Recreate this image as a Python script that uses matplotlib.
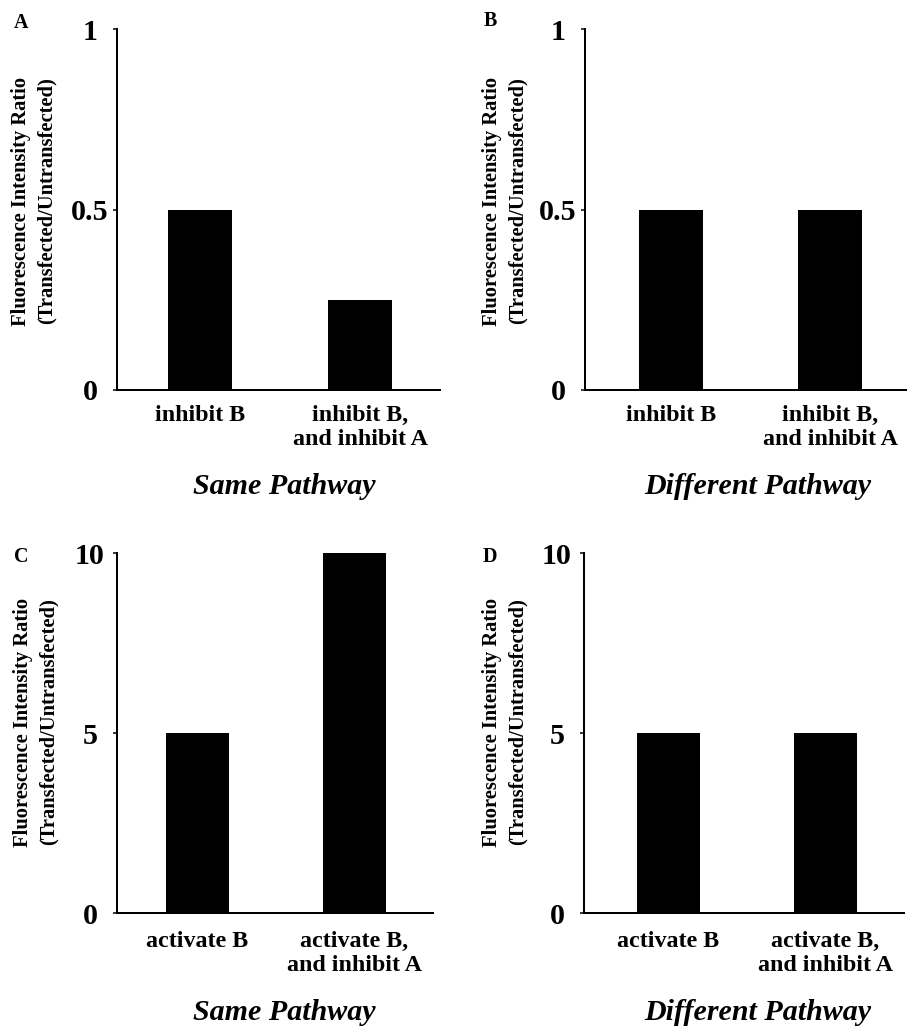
import matplotlib
matplotlib.use("Agg")
import matplotlib.pyplot as plt

plt.rcParams['font.family'] = ['Liberation Serif', 'DejaVu Serif']
plt.rcParams['font.weight'] = 'bold'

# ---- data ----
panel_letters = ["A", "B", "C", "D"]
cats_inhibit = ["inhibit B", "inhibit B,\nand inhibit A"]
cats_activate = ["activate B", "activate B,\nand inhibit A"]
vals_A = [0.5, 0.25]
vals_B = [0.5, 0.5]
vals_C = [5, 10]
vals_D = [5, 5]
yticks_top = [0, 0.5, 1]
yticklabels_top = ["0", "0.5", "1"]
yticks_bot = [0, 5, 10]
yticklabels_bot = ["0", "5", "10"]
titles = ["Same Pathway", "Different Pathway", "Same Pathway", "Different Pathway"]
ylabel = "Fluorescence Intensity Ratio\n(Transfected/Untransfected)"

W, H = 907, 1028
DPI = 72
fig = plt.figure(figsize=(W / DPI, H / DPI), dpi=DPI)
fig.patch.set_facecolor("white")


def px_axes(left, top, right, bottom):
    return fig.add_axes([left / W, 1 - bottom / H, (right - left) / W, (bottom - top) / H])


def ftext(x, y, s, **kw):
    fig.text(x / W, 1 - y / H, s, **kw)


panels = [
    dict(box=(117, 29, 440, 390), xlim=(-0.52, 1.5), vals=vals_A, cats=cats_inhibit,
         yt=yticks_top, ytl=yticklabels_top, ylim=(0, 1), xpad=15,
         letter=(21, 23), ylab=(34, 201), title=(284, 494)),
    dict(box=(585, 29, 910, 390), xlim=(-0.54, 1.5), vals=vals_B, cats=cats_inhibit,
         yt=yticks_top, ytl=yticklabels_top, ylim=(0, 1), xpad=15,
         letter=(490, 21), ylab=(505, 201), title=(758, 494)),
    dict(box=(117, 553, 433, 913), xlim=(-0.51, 1.5), vals=vals_C, cats=cats_activate,
         yt=yticks_bot, ytl=yticklabels_bot, ylim=(0, 10), xpad=18,
         letter=(21, 557), ylab=(36, 722), title=(284, 1020)),
    dict(box=(584, 553, 904, 913), xlim=(-0.535, 1.5), vals=vals_D, cats=cats_activate,
         yt=yticks_bot, ytl=yticklabels_bot, ylim=(0, 10), xpad=18,
         letter=(490, 557), ylab=(505, 722), title=(758, 1020)),
]

for i, p in enumerate(panels):
    ax = px_axes(*p["box"])
    x = list(range(len(p["cats"])))
    ax.bar(x, p["vals"], width=0.4, color="black", edgecolor="none")
    ax.set_xlim(*p["xlim"])
    ax.set_ylim(*p["ylim"])
    ax.set_xticks(x)
    ax.set_xticklabels(p["cats"], fontsize=24, fontweight="bold", linespacing=1.2)
    ax.set_yticks(p["yt"])
    ax.set_yticklabels(p["ytl"], fontsize=30, fontweight="bold", ha="center")
    ax.tick_params(axis="x", length=0, pad=p["xpad"])
    ax.tick_params(axis="y", length=4, width=1.5, direction="out", pad=23)
    for s in ["top", "right"]:
        ax.spines[s].set_visible(False)
    for s in ["left", "bottom"]:
        ax.spines[s].set_linewidth(2)
    ax.set_facecolor("none")

    ftext(*p["letter"], panel_letters[i], fontsize=20, fontweight="bold",
          ha="center", va="center")
    ftext(*p["ylab"], ylabel, fontsize=20.5, fontweight="bold", rotation=90,
          ha="center", va="center", linespacing=1.4)
    ftext(*p["title"], titles[i], fontsize=30, fontweight="bold", style="italic",
          ha="center", va="baseline")

fig.savefig("out.png", dpi=DPI, facecolor="white")
